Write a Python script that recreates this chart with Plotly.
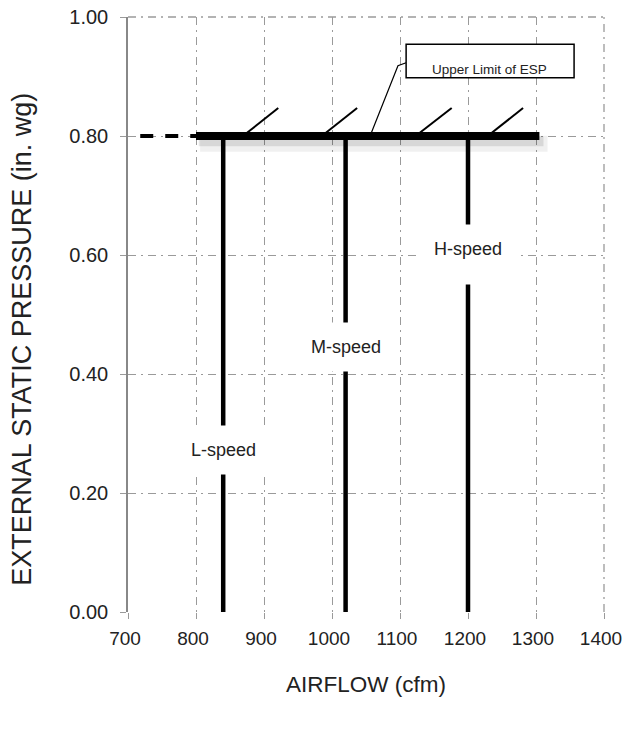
import plotly.graph_objects as go

# airflow per fan speed (cfm) and the ESP limit (in. wg)
speeds = ["L-speed", "M-speed", "H-speed"]
speed_airflow = [840, 1020, 1200]
label_esp = [0.273, 0.446, 0.6015]
esp_limit = 0.80
limit_start = 800
limit_end = 1305
limit_dash_start = 718

# hatch marks on the limit line: (foot x, tip x)
hatch_foot = [869, 985, 1123, 1229]
hatch_tip = [921, 1037, 1176, 1281]
hatch_top = 0.847

x_ticks = [700, 800, 900, 1000, 1100, 1200, 1300, 1400]
y_ticks = [0.0, 0.2, 0.4, 0.6, 0.8, 1.0]

FONT = "Liberation Sans, Arial, sans-serif"
GRID = "#9a9a9a"
GRID_DASH = "8px,5px,2px,5px"

fig = go.Figure()

# soft shadow under the limit line
fig.add_trace(go.Scatter(
    x=[limit_start + 6, limit_end + 12], y=[esp_limit - 0.013] * 2,
    mode="lines", line=dict(color="rgba(0,0,0,0.06)", width=16),
    hoverinfo="skip", showlegend=False,
))
fig.add_trace(go.Scatter(
    x=[limit_start + 4, limit_end + 6], y=[esp_limit - 0.009] * 2,
    mode="lines", line=dict(color="rgba(0,0,0,0.10)", width=10),
    hoverinfo="skip", showlegend=False,
))

# vertical speed lines
for xv in speed_airflow:
    fig.add_trace(go.Scatter(
        x=[xv, xv], y=[0, esp_limit], mode="lines",
        line=dict(color="black", width=4.5),
        hoverinfo="skip", showlegend=False,
    ))

# hatches
hx, hy = [], []
for f, t in zip(hatch_foot, hatch_tip):
    hx += [f, t, None]
    hy += [esp_limit, hatch_top, None]
fig.add_trace(go.Scatter(
    x=hx, y=hy, mode="lines", line=dict(color="black", width=2),
    hoverinfo="skip", showlegend=False,
))

# dashed extension to the left
fig.add_trace(go.Scatter(
    x=[limit_dash_start, limit_start], y=[esp_limit] * 2, mode="lines",
    line=dict(color="black", width=4, dash="13px,12px"),
    hoverinfo="skip", showlegend=False,
))

# limit line
fig.add_trace(go.Scatter(
    x=[limit_start, limit_end], y=[esp_limit] * 2, mode="lines",
    line=dict(color="black", width=8),
    hoverinfo="skip", showlegend=False,
))

# leader to the callout box
fig.add_trace(go.Scatter(
    x=[1056, 1097, 1109], y=[esp_limit, 0.918, 0.923], mode="lines",
    line=dict(color="black", width=1.2),
    hoverinfo="skip", showlegend=False,
))

# plotly drops gridlines on the plot edges, so draw top/right ones
fig.add_shape(type="line", xref="paper", yref="paper", x0=0, x1=1, y0=1, y1=1,
              line=dict(color=GRID, width=1.3, dash=GRID_DASH), layer="below")
fig.add_shape(type="line", xref="paper", yref="paper", x0=1, x1=1, y0=0, y1=1,
              line=dict(color=GRID, width=1.3, dash=GRID_DASH), layer="below")

fig.add_shape(type="rect", x0=1109, x1=1356, y0=0.898, y1=0.954,
              line=dict(color="black", width=1.5), fillcolor="white")
fig.add_annotation(x=1232, y=0.912, text="Upper Limit of ESP", showarrow=False,
                   font=dict(family=FONT, size=13.5, color="#222"))

for name, xv, yv in zip(speeds, speed_airflow, label_esp):
    extra = dict(height=31, valign="top") if name == "H-speed" else {}
    fig.add_annotation(
        x=xv, y=yv, text=name, showarrow=False,
        font=dict(family=FONT, size=18, color="#222"),
        bgcolor="white", borderpad=14, **extra,
    )

# y title as annotation so it can sit a bit low like the original
fig.add_annotation(
    xref="paper", yref="paper", x=-0.223, y=0.459,
    xanchor="center", yanchor="middle",
    text="EXTERNAL STATIC PRESSURE (in. wg)", textangle=-90, showarrow=False,
    font=dict(family=FONT, size=27, color="#222"),
)

axis_common = dict(
    showgrid=True, gridcolor=GRID, gridwidth=1.3, griddash=GRID_DASH,
    zeroline=False, ticks="outside", ticklen=6, tickcolor=GRID,
    ticklabeloverflow="allow", automargin=False,
)

fig.update_xaxes(
    range=[700, 1400], tickvals=x_ticks, ticktext=[str(v) for v in x_ticks],
    showline=False, title_text="AIRFLOW (cfm)", title_standoff=28,
    title_font=dict(family=FONT, size=22.5, color="#222"),
    tickfont=dict(family=FONT, size=19, color="#222"),
    ticklabelstandoff=3, ticklabelshift=-3,
    **axis_common,
)
fig.update_yaxes(
    range=[0, 1], tickvals=y_ticks, ticktext=[f"{v:.2f}" for v in y_ticks],
    showline=True, linecolor="#888", linewidth=1.5,
    tickfont=dict(family=FONT, size=20, color="#222"),
    ticklabelstandoff=8,
    **axis_common,
)

fig.update_layout(
    width=624, height=734,
    margin=dict(l=128, r=20, t=17, b=122),
    plot_bgcolor="white", paper_bgcolor="white",
    font=dict(family=FONT),
)

# drop the default 8px page margin so the figure fills the window
fig.write_html(
    "out.html",
    config={"displayModeBar": False},
    post_script="document.body.style.margin='0';",
)
